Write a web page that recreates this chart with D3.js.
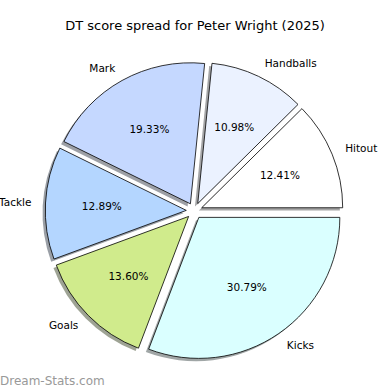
<!DOCTYPE html>
<html><head><meta charset="utf-8">
<script src="https://cdn.jsdelivr.net/npm/d3@7"></script>
<style>body{margin:0;background:#fff}svg{display:block}text{font-family:"DejaVu Sans",sans-serif}</style>
</head><body><svg id="c" width="390" height="390"></svg>
<script>
const categories = ["Hitout","Handballs","Mark","Tackle","Goals","Kicks"];
const values = [12.41,10.98,19.33,12.89,13.60,30.79];
const colors = ["#ffffff","#ebf2ff","#c5d8ff","#b4d6ff","#d0eb8c","#daffff"];
const title = "DT score spread for Peter Wright (2025)";

const svg = d3.select("#c");
const cx = 194.3, cy = 210.8, R = 141, ex = 8;
const pie = d3.pie().sort(null).startAngle(Math.PI/2).endAngle(Math.PI/2 - 2*Math.PI);
const arcs = pie(values);
const arc = d3.arc().innerRadius(0).outerRadius(R);
const g = svg.append("g").attr("transform", `translate(${cx},${cy})`);

function shade(c){ const r = d3.rgb(c); return d3.rgb(r.r*0.3, r.g*0.3, r.b*0.3); }
function off(a, d){ const m=(a.startAngle+a.endAngle)/2; return [d*Math.sin(m), -d*Math.cos(m)]; }

// shadows
arcs.forEach((a,i)=>{
  const [dx,dy]=off(a,ex);
  g.append("path").attr("d",arc(a)).attr("transform",`translate(${dx-2.8},${dy+2.8})`)
   .attr("fill",shade(colors[i])).attr("fill-opacity",0.5);
});
// slices
arcs.forEach((a,i)=>{
  const [dx,dy]=off(a,ex);
  g.append("path").attr("d",arc(a)).attr("transform",`translate(${dx},${dy})`)
   .attr("fill",colors[i]).attr("stroke","#000").attr("stroke-width",0.8).attr("stroke-linejoin","round");
});
// labels
arcs.forEach((a,i)=>{
  const [lx,ly]=off(a,ex+1.1*R);
  g.append("text").attr("x",lx).attr("y",ly).attr("dy","0.35em")
   .attr("text-anchor", lx>0?"start":"end").attr("font-size",10.5).attr("fill","#000").text(categories[i]);
  const [px,py]=off(a,ex+0.6*R);
  g.append("text").attr("x",px).attr("y",py).attr("dy","0.35em")
   .attr("text-anchor","middle").attr("font-size",10.5).attr("fill","#000").text(values[i].toFixed(2)+"%");
});
svg.append("text").attr("x",195).attr("y",30).attr("text-anchor","middle").attr("font-size",13).text(title);
svg.append("text").attr("x",0).attr("y",385).attr("font-size",12).attr("fill","#999").text("Dream-Stats.com");
</script></body></html>
